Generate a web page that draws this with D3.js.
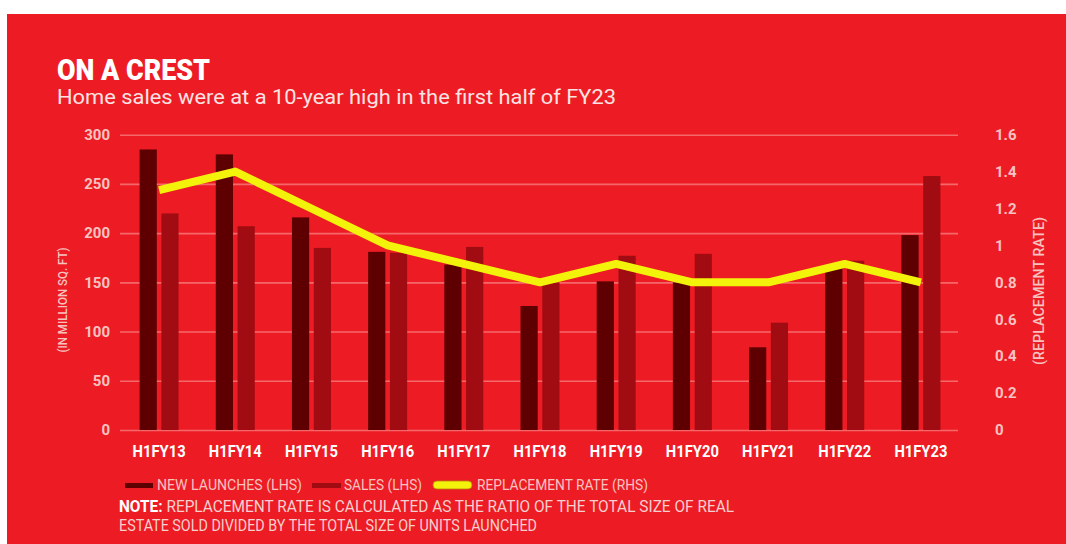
<!DOCTYPE html>
<html>
<head>
<meta charset="utf-8">
<script src="https://cdn.jsdelivr.net/npm/d3@7"></script>
<style>
  body { margin: 0; background: #fff; }
  svg { display: block; }
  text { font-family: Roboto, "Liberation Sans", sans-serif; }
</style>
</head>
<body>
<div id="chart"></div>
<script>
// values
const categories = ["H1FY13", "H1FY14", "H1FY15", "H1FY16", "H1FY17", "H1FY18", "H1FY19", "H1FY20", "H1FY21", "H1FY22", "H1FY23"];
const newLaunches = [285, 280, 216, 181, 168, 126, 151, 150, 84, 165, 198];
const sales = [220, 207, 185, 180, 186, 150, 177, 179, 109, 172, 258];
const replacementRate = [1.3, 1.4, 1.2, 1.0, 0.9, 0.8, 0.9, 0.8, 0.8, 0.9, 0.8];
const leftTicks = [0, 50, 100, 150, 200, 250, 300];
const rightTicks = [0, 0.2, 0.4, 0.6, 0.8, 1, 1.2, 1.4, 1.6];

const W = 1066, H = 544;
const bg = "#ed1c24", gridCol = "#f4686b", tickCol = "#f7c3c1";
const launchCol = "#5e0002", salesCol = "#a00c11", lineCol = "#f3f20b";

let rows = categories.map((c, i) => ({ cat: c, launch: newLaunches[i], sales: sales[i], rate: replacementRate[i] }));

let svg = d3.select("#chart").append("svg").attr("width", W).attr("height", H);
svg.append("rect").attr("x", 7).attr("y", 14).attr("width", W - 7).attr("height", H - 14).attr("fill", bg);

let x = d3.scaleBand().domain(categories).range([121, 959]);
let xIn = d3.scaleBand().domain(["launch", "sales"]).range([-19.5, 19.5]).paddingInner(0.21);
let yL = d3.scaleLinear().domain([0, 300]).range([430, 134.7]);
let yR = d3.scaleLinear().domain([0, 1.6]).range([430, 134.7]);
let cx = c => x(c) + x.bandwidth() / 2;

// gridlines + left axis
let gl = svg.append("g").attr("transform", "translate(120,0)")
    .call(d3.axisLeft(yL).tickValues(leftTicks).tickSize(-838).tickPadding(10));
gl.select(".domain").remove();
gl.selectAll(".tick line").attr("stroke", gridCol).attr("stroke-width", 1.6);
gl.selectAll(".tick text").attr("fill", tickCol).style("font-size", "15px").style("font-weight", 700);

let gr = svg.append("g").attr("transform", "translate(958,0)")
    .call(d3.axisRight(yR).tickValues(rightTicks).tickSize(0).tickPadding(37).tickFormat(d3.format("~g")));
gr.select(".domain").remove();
gr.selectAll(".tick text").attr("fill", tickCol).style("font-size", "15px").style("font-weight", 700);

// bars
let grp = svg.append("g").selectAll("g").data(rows).enter().append("g")
    .attr("transform", d => `translate(${cx(d.cat)},0)`);
grp.append("rect").attr("x", xIn("launch")).attr("width", xIn.bandwidth())
    .attr("y", d => yL(d.launch)).attr("height", d => yL(0) - yL(d.launch)).attr("fill", launchCol);
grp.append("rect").attr("x", xIn("sales")).attr("width", xIn.bandwidth())
    .attr("y", d => yL(d.sales)).attr("height", d => yL(0) - yL(d.sales)).attr("fill", salesCol);

// replacement rate line
let line = d3.line().x(d => cx(d.cat)).y(d => yR(d.rate));
svg.append("path").datum(rows).attr("d", line).attr("fill", "none")
    .attr("stroke", lineCol).attr("stroke-width", 8).attr("stroke-linejoin", "round");

// x axis labels
let gx = svg.append("g").attr("transform", "translate(0,430)")
    .call(d3.axisBottom(x).tickSize(0).tickPadding(16));
gx.select(".domain").remove();
gx.selectAll(".tick text").attr("fill", "#fff").style("font-size", "16px").style("font-weight", 700)
    .attr("textLength", 53).attr("lengthAdjust", "spacingAndGlyphs");

// axis titles
svg.append("text").attr("transform", "translate(67,300) rotate(-90)").attr("text-anchor", "middle")
    .attr("fill", tickCol).style("font-size", "13px").style("font-weight", 500).attr("textLength", 105).attr("lengthAdjust", "spacingAndGlyphs")
    .text("(IN MILLION SQ. FT)");
svg.append("text").attr("transform", "translate(1044,291) rotate(-90)").attr("text-anchor", "middle")
    .attr("fill", tickCol).style("font-size", "14px").style("font-weight", 500).attr("textLength", 148).attr("lengthAdjust", "spacingAndGlyphs")
    .text("(REPLACEMENT RATE)");

// title
svg.append("text").attr("x", 57).attr("y", 80).attr("fill", "#fff").style("font-size", "30px").style("font-weight", 900)
    .attr("textLength", 153).attr("lengthAdjust", "spacingAndGlyphs").text("ON A CREST");
svg.append("text").attr("x", 57).attr("y", 104).attr("fill", "#fbe3e3").style("font-size", "20px")
    .attr("textLength", 559).attr("lengthAdjust", "spacingAndGlyphs")
    .text("Home sales were at a 10-year high in the first half of FY23");

// legend
let legend = [
    { label: "NEW LAUNCHES (LHS)", col: launchCol, x0: 125, x1: 153, tx: 157, tw: 145, kind: "bar" },
    { label: "SALES (LHS)", col: salesCol, x0: 312, x1: 341, tx: 344, tw: 78, kind: "bar" },
    { label: "REPLACEMENT RATE (RHS)", col: lineCol, x0: 433, x1: 472, tx: 477, tw: 171, kind: "line" }
];
let lg = svg.append("g");
legend.forEach(l => {
    if (l.kind === "bar") {
        lg.append("rect").attr("x", l.x0).attr("y", 483).attr("width", l.x1 - l.x0).attr("height", 5).attr("fill", l.col);
    } else {
        lg.append("rect").attr("x", l.x0).attr("y", 481).attr("width", l.x1 - l.x0).attr("height", 8).attr("rx", 4)
            .attr("fill", l.col).attr("stroke", "#b8860b").attr("stroke-width", 0.8);
    }
    lg.append("text").attr("x", l.tx).attr("y", 490).attr("fill", tickCol).style("font-size", "14px")
        .attr("textLength", l.tw).attr("lengthAdjust", "spacingAndGlyphs").text(l.label);
});

// note
let note = svg.append("text").attr("x", 119).attr("y", 512).style("font-size", "16px").attr("fill", "#f6d0cf")
    .attr("textLength", 615).attr("lengthAdjust", "spacingAndGlyphs");
note.append("tspan").attr("fill", "#fff").style("font-weight", 700).text("NOTE: ");
note.append("tspan").text("REPLACEMENT RATE IS CALCULATED AS THE RATIO OF THE TOTAL SIZE OF REAL");
svg.append("text").attr("x", 119).attr("y", 531).style("font-size", "16px").attr("fill", "#f6d0cf")
    .attr("textLength", 418).attr("lengthAdjust", "spacingAndGlyphs")
    .text("ESTATE SOLD DIVIDED BY THE TOTAL SIZE OF UNITS LAUNCHED");
</script>
</body>
</html>
